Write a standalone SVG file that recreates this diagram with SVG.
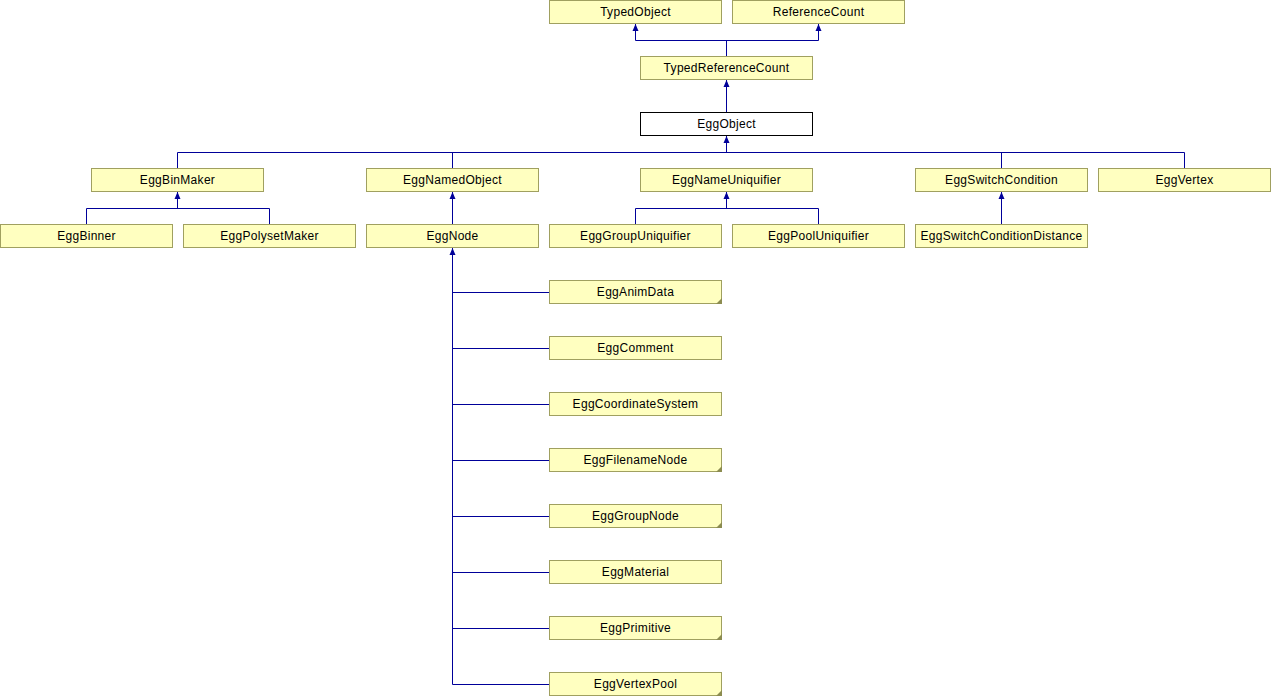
<svg xmlns="http://www.w3.org/2000/svg" width="1271" height="696" viewBox="0 0 1271 696">
<defs>
<style>
.n rect{fill:#ffffc0;stroke:#a0a060;stroke-width:1}
.n.cur rect{fill:#ffffff;stroke:#000000}
.n text{font-family:"Liberation Sans",Arial,sans-serif;font-size:12px;letter-spacing:0.3px;fill:#000;text-anchor:middle}
.n polygon{fill:#8c8c50}
#edges path{fill:none;stroke:#000099;stroke-width:1}
#edges polygon{fill:#000099}
</style>
</defs>
<rect width="1271" height="696" fill="#ffffff"/>
<g id="edges">
<path d="M635.5,24 V40.5 H818.5 V24 M726.5,40.5 V56"/>
<path d="M726.5,80 V112"/>
<path d="M726.5,136 V152.5 M177.5,168 V152.5 H1184.5 V168 M452.5,152.5 V168 M1001.5,152.5 V168"/>
<path d="M177.5,192 V208.5 M86.5,224 V208.5 H269.5 V224"/>
<path d="M452.5,192 V224"/>
<path d="M726.5,192 V208.5 M635.5,224 V208.5 H818.5 V224"/>
<path d="M1001.5,192 V224"/>
<path d="M452.5,248 V684.5 M452.5,292.5 H549 M452.5,348.5 H549 M452.5,404.5 H549 M452.5,460.5 H549 M452.5,516.5 H549 M452.5,572.5 H549 M452.5,628.5 H549 M452.5,684.5 H549"/>
<polygon points="635.5,24 632.5,31 638.5,31"/>
<polygon points="818.5,24 815.5,31 821.5,31"/>
<polygon points="726.5,80 723.5,87 729.5,87"/>
<polygon points="726.5,136 723.5,143 729.5,143"/>
<polygon points="177.5,192 174.5,199 180.5,199"/>
<polygon points="452.5,192 449.5,199 455.5,199"/>
<polygon points="726.5,192 723.5,199 729.5,199"/>
<polygon points="1001.5,192 998.5,199 1004.5,199"/>
<polygon points="452.5,248 449.5,255 455.5,255"/>
</g>
<g id="TypedObject" class="n"><rect x="549.5" y="0.5" width="172" height="23"/><text x="635.5" y="15.5">TypedObject</text></g>
<g id="ReferenceCount" class="n"><rect x="732.5" y="0.5" width="172" height="23"/><text x="818.5" y="15.5">ReferenceCount</text></g>
<g id="TypedReferenceCount" class="n"><rect x="640.5" y="56.5" width="172" height="23"/><text x="726.5" y="71.5">TypedReferenceCount</text></g>
<g id="EggObject" class="n cur"><rect x="640.5" y="112.5" width="172" height="23"/><text x="726.5" y="127.5">EggObject</text></g>
<g id="EggBinMaker" class="n"><rect x="91.5" y="168.5" width="172" height="23"/><text x="177.5" y="183.5">EggBinMaker</text></g>
<g id="EggNamedObject" class="n"><rect x="366.5" y="168.5" width="172" height="23"/><text x="452.5" y="183.5">EggNamedObject</text></g>
<g id="EggNameUniquifier" class="n"><rect x="640.5" y="168.5" width="172" height="23"/><text x="726.5" y="183.5">EggNameUniquifier</text></g>
<g id="EggSwitchCondition" class="n"><rect x="915.5" y="168.5" width="172" height="23"/><text x="1001.5" y="183.5">EggSwitchCondition</text></g>
<g id="EggVertex" class="n"><rect x="1098.5" y="168.5" width="172" height="23"/><text x="1184.5" y="183.5">EggVertex</text></g>
<g id="EggBinner" class="n"><rect x="0.5" y="224.5" width="172" height="23"/><text x="86.5" y="239.5">EggBinner</text></g>
<g id="EggPolysetMaker" class="n"><rect x="183.5" y="224.5" width="172" height="23"/><text x="269.5" y="239.5">EggPolysetMaker</text></g>
<g id="EggNode" class="n"><rect x="366.5" y="224.5" width="172" height="23"/><text x="452.5" y="239.5">EggNode</text></g>
<g id="EggGroupUniquifier" class="n"><rect x="549.5" y="224.5" width="172" height="23"/><text x="635.5" y="239.5">EggGroupUniquifier</text></g>
<g id="EggPoolUniquifier" class="n"><rect x="732.5" y="224.5" width="172" height="23"/><text x="818.5" y="239.5">EggPoolUniquifier</text></g>
<g id="EggSwitchConditionDistance" class="n"><rect x="915.5" y="224.5" width="172" height="23"/><text x="1001.5" y="239.5">EggSwitchConditionDistance</text></g>
<g id="EggAnimData" class="n"><rect x="549.5" y="280.5" width="172" height="23"/><polygon points="722,298 722,304 716,304"/><text x="635.5" y="295.5">EggAnimData</text></g>
<g id="EggComment" class="n"><rect x="549.5" y="336.5" width="172" height="23"/><text x="635.5" y="351.5">EggComment</text></g>
<g id="EggCoordinateSystem" class="n"><rect x="549.5" y="392.5" width="172" height="23"/><text x="635.5" y="407.5">EggCoordinateSystem</text></g>
<g id="EggFilenameNode" class="n"><rect x="549.5" y="448.5" width="172" height="23"/><polygon points="722,466 722,472 716,472"/><text x="635.5" y="463.5">EggFilenameNode</text></g>
<g id="EggGroupNode" class="n"><rect x="549.5" y="504.5" width="172" height="23"/><polygon points="722,522 722,528 716,528"/><text x="635.5" y="519.5">EggGroupNode</text></g>
<g id="EggMaterial" class="n"><rect x="549.5" y="560.5" width="172" height="23"/><text x="635.5" y="575.5">EggMaterial</text></g>
<g id="EggPrimitive" class="n"><rect x="549.5" y="616.5" width="172" height="23"/><polygon points="722,634 722,640 716,640"/><text x="635.5" y="631.5">EggPrimitive</text></g>
<g id="EggVertexPool" class="n"><rect x="549.5" y="672.5" width="172" height="23"/><polygon points="722,690 722,696 716,696"/><text x="635.5" y="687.5">EggVertexPool</text></g>
</svg>
